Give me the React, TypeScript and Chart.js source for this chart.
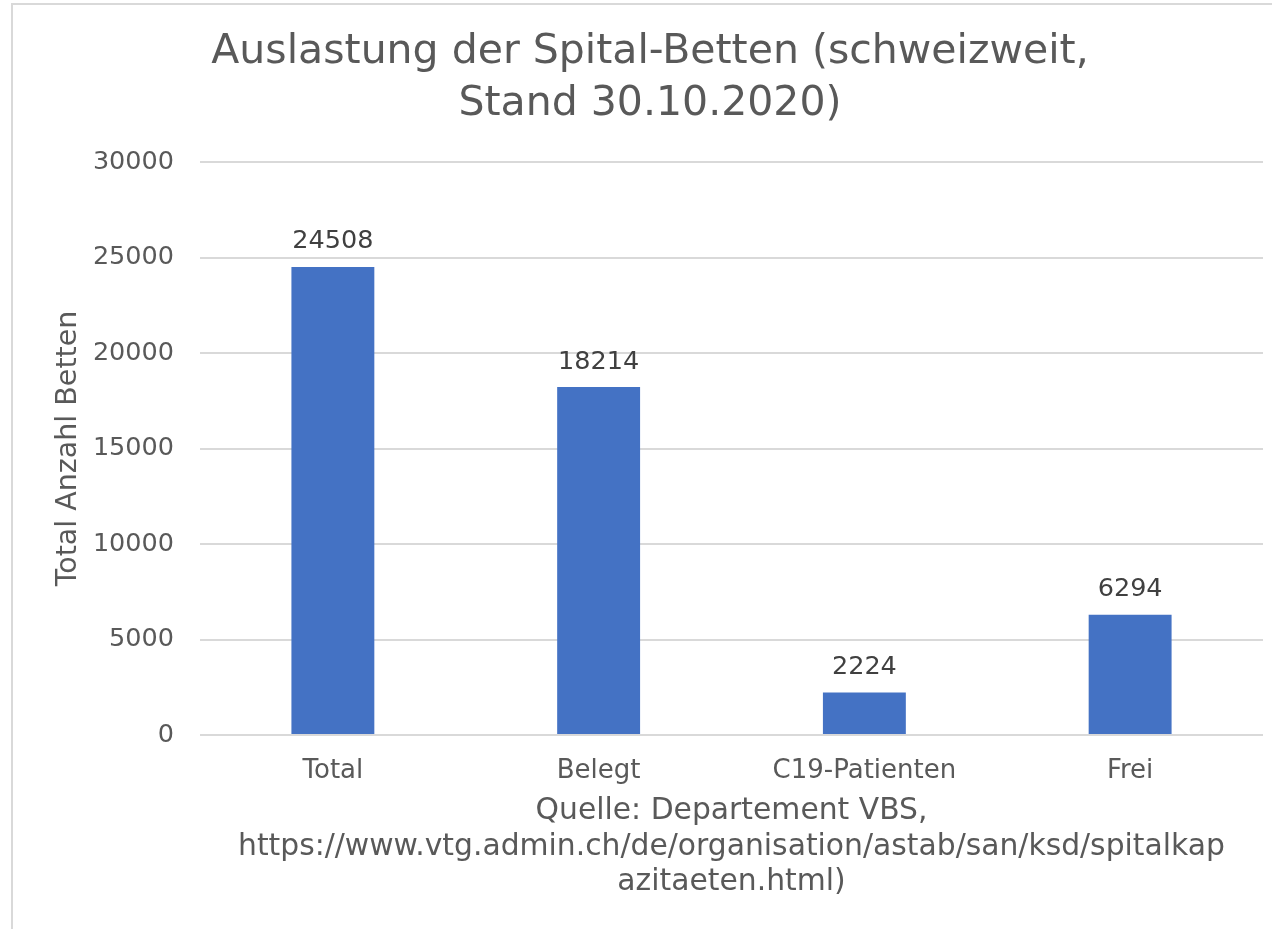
import React, { useEffect, useRef } from "react";
import { Chart, registerables } from "chart.js";

Chart.register(...registerables);

const categories = ["Total", "Belegt", "C19-Patienten", "Frei"];
const values = [24508, 18214, 2224, 6294];
const titleLines = ["Auslastung der Spital-Betten (schweizweit,", "Stand 30.10.2020)"];
const yTitle = "Total Anzahl Betten";
const xTitleLines = [
  "Quelle: Departement VBS,",
  "https://www.vtg.admin.ch/de/organisation/astab/san/ksd/spitalkap",
  "azitaeten.html)",
];
const yMin = 0;
const yMax = 30000;
const yStep = 5000;

const FONT = "'DejaVu Sans', Verdana, sans-serif";

const dataLabelPlugin = {
  id: "dataLabels",
  afterDatasetsDraw(chart: any) {
    const ctx = chart.ctx;
    const meta = chart.getDatasetMeta(0);
    ctx.save();
    ctx.font = `25.5px ${FONT}`;
    ctx.fillStyle = "#404040";
    ctx.textAlign = "center";
    ctx.textBaseline = "alphabetic";
    meta.data.forEach((bar: any, i: number) => {
      const v = chart.data.datasets[0].data[i];
      ctx.fillText(String(v), bar.x, bar.y - 18.5);
    });
    ctx.restore();
  },
};

export default function App() {
  const ref = useRef<HTMLCanvasElement | null>(null);

  useEffect(() => {
    if (!ref.current) return;
    const chart = new Chart(ref.current, {
      type: "bar",
      data: {
        labels: categories,
        datasets: [
          {
            data: values,
            backgroundColor: "#4472C4",
            borderWidth: 0,
            barPercentage: 0.312,
            categoryPercentage: 1,
          },
        ],
      },
      options: {
        animation: false,
        responsive: false,
        maintainAspectRatio: false,
        layout: { padding: { left: 37, right: 9, top: 0, bottom: 0 } },
        plugins: {
          legend: { display: false },
          tooltip: { enabled: false },
          title: {
            display: true,
            text: titleLines,
            color: "#595959",
            font: { family: FONT, size: 41, weight: "normal", lineHeight: 1.25 },
            padding: { top: 27, bottom: 32.5 },
          },
        },
        scales: {
          x: {
            grid: { display: false, drawTicks: false },
            border: { display: false },
            ticks: {
              color: "#595959",
              font: { family: FONT, size: 26 },
              padding: 21,
              maxRotation: 0,
              autoSkip: false,
            },
            title: {
              display: true,
              text: xTitleLines,
              color: "#595959",
              font: { family: FONT, size: 29.8, lineHeight: 1.2 },
              padding: { top: 0, bottom: 28.5 },
            },
            afterFit: (scale: any) => {
              scale.height = 194;
            },
          },
          y: {
            min: yMin,
            max: yMax,
            grid: { color: "#d9d9d9", lineWidth: 2, drawTicks: false },
            border: { display: false },
            ticks: {
              stepSize: yStep,
              color: "#595959",
              font: { family: FONT, size: 25.5 },
              padding: 26,
              callback: (v: any) => String(v),
            },
            title: {
              display: true,
              text: yTitle,
              color: "#595959",
              font: { family: FONT, size: 28.5, lineHeight: 1.2 },
              padding: { top: 14, bottom: 0 },
            },
            afterFit: (scale: any) => {
              scale.width = 163;
            },
          },
        },
      },
      plugins: [dataLabelPlugin],
    });
    return () => chart.destroy();
  }, []);

  return (
    <div
      style={{
        position: "absolute",
        left: 0,
        top: 0,
        width: 1272,
        height: 929,
        overflow: "hidden",
        background: "#fff",
      }}
    >
      <div
        style={{
          position: "absolute",
          left: 11,
          top: 3,
          width: 1400,
          height: 1100,
          border: "2px solid #d9d9d9",
          boxSizing: "border-box",
        }}
      />
      <canvas
        ref={ref}
        width={1272}
        height={929}
        style={{ position: "absolute", left: 0, top: 0, width: 1272, height: 929 }}
      />
    </div>
  );
}
